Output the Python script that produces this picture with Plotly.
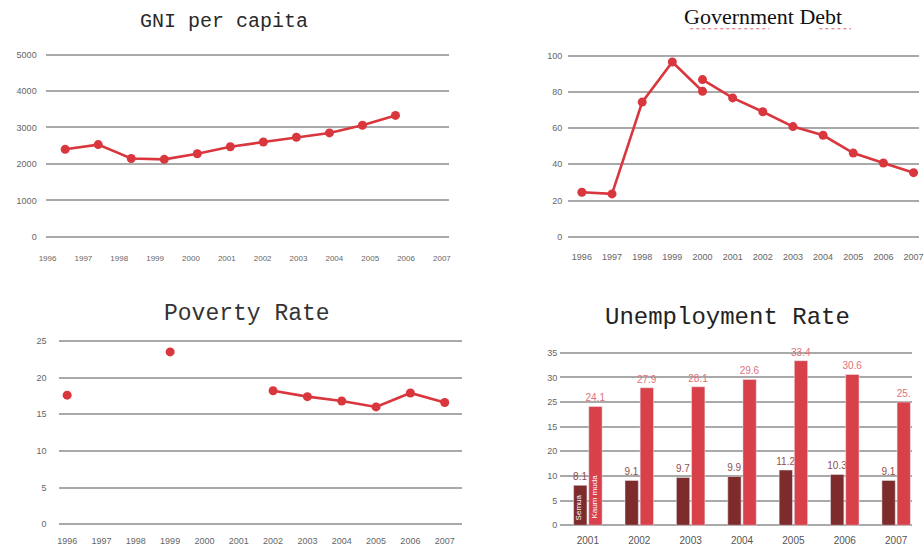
import plotly.graph_objects as go

W, H = 924, 554

# ---------------- data ----------------
gni_years = [1996, 1997, 1998, 1999, 2000, 2001, 2002, 2003, 2004, 2005, 2006]
gni_values = [2400, 2530, 2150, 2125, 2280, 2470, 2600, 2730, 2850, 3060, 3330]

debt_years_a = [1996, 1997, 1998, 1999, 2000]
debt_values_a = [24.6, 23.7, 74.3, 96.4, 80.3]
debt_years_b = [2000, 2001, 2002, 2003, 2004, 2005, 2006, 2007]
debt_values_b = [86.7, 76.6, 69.0, 60.8, 56.0, 46.2, 40.7, 35.4]

pov_years = [1996, 1997, 1998, 1999, 2000, 2001, 2002, 2003, 2004, 2005, 2006, 2007]
pov_values = [17.6, None, None, 23.5, None, None, 18.2, 17.4, 16.8, 16.0, 17.9, 16.6]

unemp_years = ["2001", "2002", "2003", "2004", "2005", "2006", "2007"]
unemp_all = [8.1, 9.1, 9.7, 9.9, 11.2, 10.3, 9.1]
unemp_all_labels = ["8.1", "9.1", "9.7", "9.9", "11.2", "10.3", "9.1"]
unemp_youth = [24.1, 27.9, 28.1, 29.6, 33.4, 30.6, 25.0]
unemp_youth_labels = ["24.1", "27.9", "28.1", "29.6", "33.4", "30.6", "25."]

year_ticks = list(range(1996, 2008))
gni_ticks = [0, 1000, 2000, 3000, 4000, 5000]
debt_ticks = [0, 20, 40, 60, 80, 100]
pov_ticks = [0, 5, 10, 15, 20, 25]
unemp_tickvals = [0, 5, 10, 15, 20, 25, 30, 35]
unemp_ticktext = ["0", "5", "10", "20", "15", "25", "30", "35"]

# ---------------- style ----------------
RED = "#d9363e"
DARK = "#7d2b2b"
BAR_RED = "#d8404a"
GRID = "#a9a9a9"
TICK = "#666666"
NOCOLOR = "rgba(0,0,0,0)"


def px_x(p):
    return p / W


def px_y(p):
    return 1 - p / H


fig = go.Figure()

line_style = dict(color=RED, width=2.6)
marker_style = dict(color=RED, size=9)

# GNI (data on a hidden axis, year labels on an overlaid axis)
fig.add_trace(go.Scatter(x=gni_years, y=gni_values, mode="lines+markers",
                         line=line_style, marker=marker_style,
                         xaxis="x", yaxis="y", showlegend=False))
fig.add_trace(go.Scatter(x=year_ticks, y=[None] * len(year_ticks), mode="markers",
                         hoverinfo="skip", xaxis="x5", yaxis="y", showlegend=False))
# Debt
fig.add_trace(go.Scatter(x=debt_years_a, y=debt_values_a, mode="lines+markers",
                         line=line_style, marker=marker_style,
                         xaxis="x2", yaxis="y2", showlegend=False))
fig.add_trace(go.Scatter(x=debt_years_b, y=debt_values_b, mode="lines+markers",
                         line=line_style, marker=marker_style,
                         xaxis="x2", yaxis="y2", showlegend=False))
# Poverty
fig.add_trace(go.Scatter(x=pov_years, y=pov_values, mode="lines+markers",
                         line=line_style, marker=marker_style, connectgaps=False,
                         xaxis="x3", yaxis="y3", showlegend=False))
# Unemployment
fig.add_trace(go.Bar(x=unemp_years, y=unemp_all, name="Semua", marker_color=DARK,
                     text=unemp_all_labels, textposition="outside", constraintext="none",
                     textfont=dict(color="#8e5050", size=10, family="Liberation Sans"),
                     cliponaxis=False, xaxis="x4", yaxis="y4", showlegend=False))
fig.add_trace(go.Bar(x=unemp_years, y=unemp_youth, name="Kaum muda", marker_color=BAR_RED,
                     text=unemp_youth_labels, textposition="outside", constraintext="none",
                     textfont=dict(color="#e0707a", size=10, family="Liberation Sans"),
                     cliponaxis=False, xaxis="x4", yaxis="y4", showlegend=False))

tickfont_small = dict(family="Liberation Sans", size=8, color=TICK)
tickfont_mid = dict(family="Liberation Sans", size=9, color=TICK)


def ygrid(ticklen):
    return dict(showgrid=True, gridcolor=GRID, gridwidth=1.8, zeroline=False,
                showline=False, ticks="outside", ticklen=ticklen, tickcolor=NOCOLOR,
                fixedrange=True)


xnogrid = dict(showgrid=False, zeroline=False, showline=False, ticks="", fixedrange=True)

fig.update_layout(
    width=W, height=H,
    margin=dict(l=0, r=0, t=0, b=0),
    paper_bgcolor="white", plot_bgcolor="white",
    bargap=0.41, bargroupgap=0.12, barmode="group",
    xaxis=dict(domain=[px_x(39), px_x(447)], range=[1995.433, 2007.612], anchor="y",
               showticklabels=False, **xnogrid),
    xaxis5=dict(domain=[px_x(39), px_x(447)], range=[1995.97, 2007.19], anchor="y",
                overlaying="x", tickvals=year_ticks, tickfont=tickfont_small,
                side="bottom", ticklabelstandoff=11, **xnogrid),
    yaxis=dict(domain=[px_y(240.7), px_y(49.3)], range=[-100, 5100], anchor="x",
               tickvals=gni_ticks, tickfont=dict(family="Liberation Sans", size=9, color=TICK),
               **ygrid(7)),
    xaxis2=dict(domain=[px_x(568), 1.0], range=[1995.54, 2007.18], anchor="y2",
                tickvals=year_ticks, tickfont=tickfont_mid, ticklabelstandoff=8,
                ticklabeloverflow="allow", **xnogrid),
    yaxis2=dict(domain=[px_y(242.5), px_y(48.5)], range=[-3, 103], anchor="x2",
                tickvals=debt_ticks, tickfont=tickfont_mid, **ygrid(3)),
    xaxis3=dict(domain=[px_x(52), px_x(460)], range=[1995.77, 2007.49], anchor="y3",
                tickvals=year_ticks, tickfont=tickfont_mid, ticklabelstandoff=6, **xnogrid),
    yaxis3=dict(domain=[px_y(530.7), px_y(338.3)], range=[-0.5, 25.5], anchor="x3",
                tickvals=pov_ticks, tickfont=tickfont_mid, **ygrid(10)),
    xaxis4=dict(domain=[px_x(560), px_x(917)], range=[-0.54, 6.31], anchor="y4",
                type="category", tickfont=dict(family="Liberation Sans", size=10, color="#555"),
                ticklabelstandoff=5, **xnogrid),
    yaxis4=dict(domain=[px_y(530.5), px_y(351.5)], range=[-0.5, 35.5], anchor="x4",
                tickvals=unemp_tickvals, ticktext=unemp_ticktext, tickfont=tickfont_mid,
                **ygrid(0)),
)

title_common = dict(xref="paper", yref="paper", showarrow=False, xanchor="center", yanchor="middle")
annotations = [
    dict(text="GNI per capita", x=px_x(219), y=px_y(20),
         font=dict(family="Liberation Mono", size=20, color="#2a2a2a"), **title_common),
    dict(text="Government Debt", x=px_x(766), y=px_y(15),
         font=dict(family="Liberation Serif", size=22, color="#111111"), **title_common),
    dict(text="Poverty Rate", x=px_x(242), y=px_y(315),
         font=dict(family="Liberation Mono", size=23, color="#333333"), **title_common),
    dict(text="Unemployment Rate", x=px_x(730), y=px_y(318),
         font=dict(family="Liberation Mono", size=24, color="#222222"), **title_common),
    dict(text="Semua", x=0, y=3.6, xref="x4", yref="y4", xshift=-9,
         xanchor="center", yanchor="middle",
         textangle=-90, showarrow=False, font=dict(family="Liberation Sans", size=8, color="white")),
    dict(text="Kaum muda", x=0, y=5.8, xref="x4", yref="y4", xshift=7,
         xanchor="center", yanchor="middle",
         textangle=-90, showarrow=False, font=dict(family="Liberation Sans", size=8, color="white")),
]
fig.update_layout(annotations=annotations)

# spell-check style squiggle under the Government Debt title
fig.add_shape(type="line", xref="paper", yref="paper", x0=px_x(692), x1=px_x(772),
              y0=px_y(27), y1=px_y(27), line=dict(color="#e06060", width=1, dash="dot"))
fig.add_shape(type="line", xref="paper", yref="paper", x0=px_x(823), x1=px_x(855),
              y0=px_y(27), y1=px_y(27), line=dict(color="#e06060", width=1, dash="dot"))

fig.write_html("out.html")
